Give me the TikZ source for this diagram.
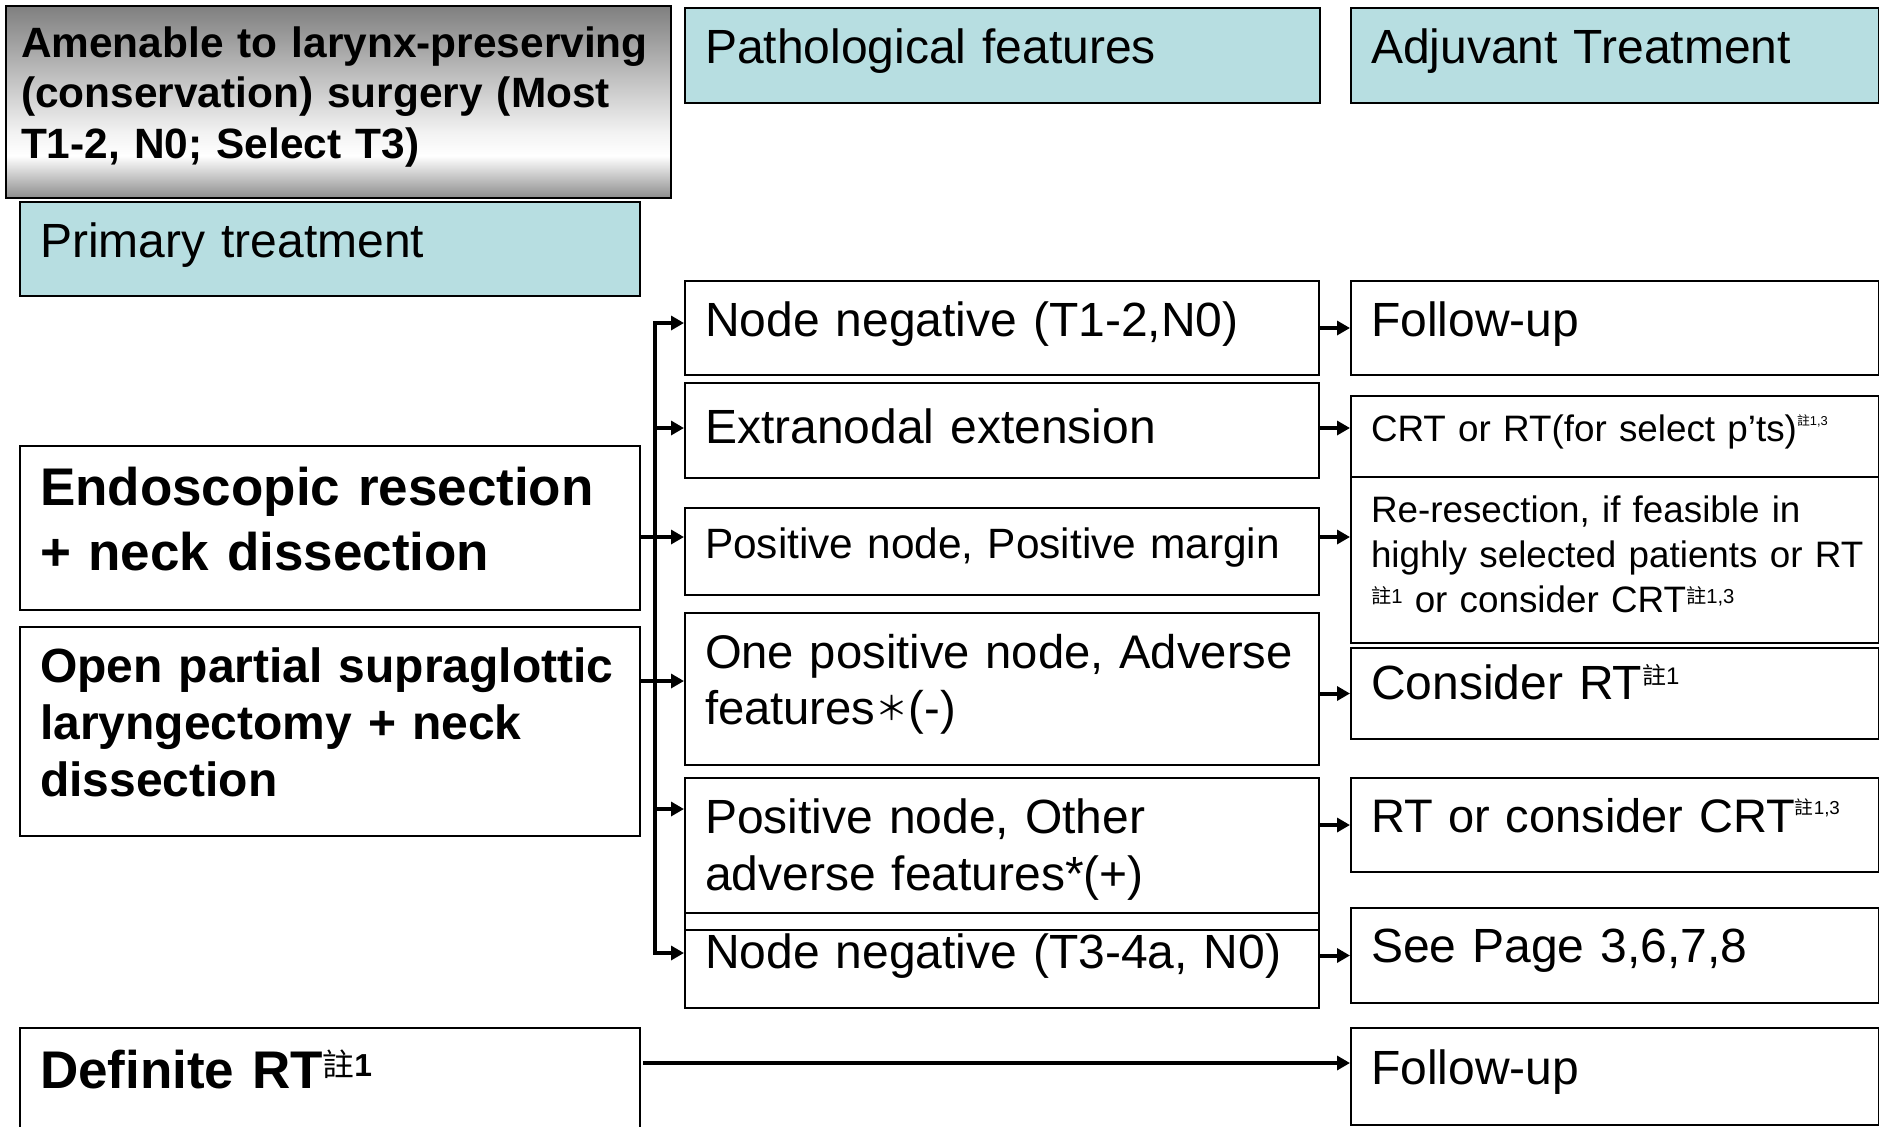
\documentclass[tikz,border=0pt]{standalone}
\usepackage{fontspec}
\setmainfont{Liberation Sans}
\newfontfamily\cjk{Noto Sans CJK TC}
\usetikzlibrary{arrows.meta}
\definecolor{headblue}{HTML}{B7DEE1}
\pgfdeclareverticalshading{steel}{100bp}{color(0bp)=(gray!90); color(25bp)=(gray!90); color(36bp)=(white); color(42bp)=(white!95!black); color(75bp)=(gray); color(100bp)=(gray)}
% note mark: scale factor, then the numbers
\newcommand{\zhu}[2][0.5]{\raisebox{0.72em}[0pt][0pt]{\raisebox{-\height}{\scalebox{#1}{{\cjk\mdseries 註}#2}}}}
% extra space under the last line, so the text sits a little higher
\newcommand{\liftend}[1]{\par\kern#1}

\begin{document}
\begin{tikzpicture}[x=0.5pt,y=-0.5pt,
		lift/.style={execute at end node={\liftend{#1}}},
		box/.style={draw, line width=1pt, anchor=north west, align=left, inner xsep=10pt, inner ysep=0pt, lift=4.4pt},
		lcol/.style={box, text width=290pt},
		mcol/.style={box, text width=297pt},
		rcol/.style={box, text width=244pt},
		head/.style={fill=headblue, font=\fontsize{24}{29}\selectfont},
		txt/.style={font=\fontsize{24}{28.5}\selectfont},
		trunk/.style={line width=2pt, line cap=rect},
		arr/.style={line width=2pt, line cap=rect, -{Triangle[length=6.5pt,width=7pt]}}]
	\useasboundingbox (0,0) rectangle (1879,1126);
	
	% headings
	\node[box, inner xsep=7.5pt, text width=317.5pt, minimum height=96pt, shade, shading=steel, lift=0.6pt, font=\bfseries\fontsize{21.2}{25.3}\selectfont] (cond) at (5,5) {\mbox{Amenable to larynx-preserving}\\(conservation) surgery (Most\\T1-2, N0; Select T3)};
	\node[box, head, text width=297.5pt, minimum height=47.5pt] (path) at (684,7) {Pathological features};
	\node[rcol, head, minimum height=47.5pt] (adj) at (1350,7) {Adjuvant Treatment};
	\node[lcol, head, minimum height=47pt] (prim) at (19,201) {Primary treatment};
	
	% primary treatment
	\node[lcol, minimum height=82pt, lift=4.8pt, font=\bfseries\fontsize{26.5}{32.5}\selectfont] (endo) at (19,445) {Endoscopic resection\\+ neck dissection};
	\node[lcol, minimum height=104.5pt, lift=4.8pt, font=\bfseries\fontsize{24}{28.5}\selectfont] (open) at (19,626) {Open partial supraglottic\\laryngectomy + neck\\dissection};
	\node[lcol, minimum height=50.5pt, lift=4.8pt, font=\bfseries\fontsize{26.5}{32}\selectfont] (defrt) at (19,1027) {Definite RT\zhu[0.6]{1}};
	
	% pathological features
	\node[mcol, txt, minimum height=47pt] (neg) at (684,280) {Node negative (T1-2,N0)};
	\node[mcol, txt, minimum height=47.5pt] (ene) at (684,382) {Extranodal extension};
	\node[mcol, minimum height=43.5pt, font=\fontsize{21.2}{25}\selectfont] (margin) at (684,507) {Positive node, Positive margin};
	\node[mcol, minimum height=76pt, font=\fontsize{23.6}{28}\selectfont] (onepos) at (684,612) {One positive node, Adverse\\features\raisebox{0.1em}{\scalebox{0.7}{\cjk ＊}}(-)};
	\node[mcol, txt, minimum height=76pt] (other) at (684,777) {Positive node, Other\\adverse features*(+)};
	\node[mcol, txt, minimum height=47.5pt] (negb) at (684,912) {Node negative (T3-4a, N0)};
	
	% adjuvant treatment
	\node[rcol, txt, minimum height=47pt] (fu) at (1350,280) {Follow-up};
	\node[rcol, minimum height=40.5pt, font=\fontsize{18.4}{22}\selectfont] (crt) at (1350,395) {CRT or RT(for select p’ts)\zhu[0.35]{1,3}};
	\node[rcol, minimum height=83pt, lift=1.2pt, font=\fontsize{18.4}{22.5}\selectfont] (reres) at (1350,476) {Re-resection, if feasible in\\\mbox{highly selected patients or RT}\\\zhu[0.55]{1} or consider CRT\zhu[0.55]{1,3}};
	\node[rcol, txt, minimum height=45.5pt, lift=7.2pt] (consrt) at (1350,647) {Consider RT\zhu{1}};
	\node[rcol, minimum height=47pt, lift=4.8pt, font=\fontsize{23.5}{28}\selectfont] (rtcrt) at (1350,777) {RT or consider CRT\zhu[0.4]{1,3}};
	\node[rcol, txt, minimum height=47.5pt] (page) at (1350,907) {See Page 3,6,7,8};
	\node[rcol, txt, minimum height=48.5pt] (fub) at (1350,1027) {Follow-up};
	
	% trunk and branches
	\coordinate (t1) at (655,323);
	\coordinate (t2) at (655,428);
	\coordinate (t3) at (655,537);
	\coordinate (t4) at (655,681);
	\coordinate (t5) at (655,809);
	\coordinate (t6) at (655,953);
	\draw[trunk] (t1) -- (t6);
	\draw[trunk] (t3 -| endo.east) -- (t3);
	\draw[trunk] (t4 -| open.east) -- (t4);
	\foreach \t/\b in {t1/neg, t2/ene, t3/margin, t4/onepos, t5/other, t6/negb}
		\draw[arr] (\t) -- (\t -| \b.west);
	
	% features to adjuvant treatment
	\draw[arr] (fu.west -| neg.east) -- (fu.west);
	\draw[arr] (t2 -| ene.east) -- (t2 -| crt.west);
	\draw[arr] (t3 -| margin.east) -- (t3 -| reres.west);
	\draw[arr] (consrt.west -| onepos.east) -- (consrt.west);
	\draw[arr] (rtcrt.west -| other.east) -- (rtcrt.west);
	\draw[arr] (page.west -| negb.east) -- (page.west);
	
	% definite RT goes straight to follow-up
	\coordinate (d0) at (645,1063);
	\draw[arr] (d0) -- (d0 -| fub.west);
\end{tikzpicture}
\end{document}
